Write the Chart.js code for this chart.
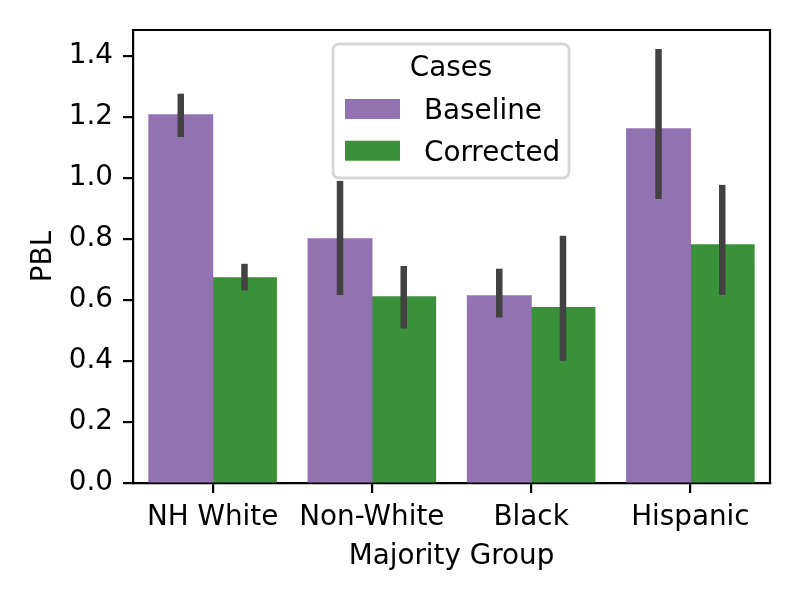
<!DOCTYPE html>
<html>
<head>
<meta charset="utf-8">
<script src="https://cdn.jsdelivr.net/npm/chart.js@4/dist/chart.umd.min.js"></script>
<style>
  html, body { margin: 0; padding: 0; background: #fff; }
</style>
</head>
<body>
<canvas id="myChart" width="800" height="600"></canvas>
<script>
(() => {
    'use strict'

    // data
    const groups = ['NH White', 'Non-White', 'Black', 'Hispanic']
    const baseline = [1.208, 0.801, 0.614, 1.162]
    const baselineLo = [1.135, 0.617, 0.543, 0.932]
    const baselineHi = [1.277, 0.991, 0.703, 1.424]
    const corrected = [0.673, 0.611, 0.575, 0.781]
    const correctedLo = [0.632, 0.507, 0.401, 0.617]
    const correctedHi = [0.719, 0.712, 0.811, 0.978]
    const yTicks = [0, 0.2, 0.4, 0.6, 0.8, 1.0, 1.2, 1.4]
    const legendTitle = 'Cases'

    const FONT = 'DejaVu Sans'
    const FS = 27.8
    const ctx = document.getElementById('myChart')

    // seaborn style error bars
    const errorBars = {
        id: 'errorBars',
        afterDatasetsDraw(chart) {
            const c = chart.ctx
            const y = chart.scales.y
            c.save()
            c.strokeStyle = '#424242'
            c.lineWidth = 6.5
            c.lineCap = 'butt'
            chart.data.datasets.forEach((ds, i) => {
                const meta = chart.getDatasetMeta(i)
                meta.data.forEach((bar, j) => {
                    c.beginPath()
                    c.moveTo(bar.x, y.getPixelForValue(ds.errLo[j]))
                    c.lineTo(bar.x, y.getPixelForValue(ds.errHi[j]))
                    c.stroke()
                })
            })
            c.restore()
        }
    }

    // top and right spines + legend box inside the plot
    const frameAndLegend = {
        id: 'frameAndLegend',
        afterDraw(chart) {
            const c = chart.ctx
            const a = chart.chartArea
            c.save()
            c.strokeStyle = '#000'
            c.lineWidth = 2.2
            c.beginPath()
            c.moveTo(a.left - 1.1, a.top)
            c.lineTo(a.right, a.top)
            c.lineTo(a.right, a.bottom + 1.1)
            c.stroke()

            // legend
            const bx = 333, by = 44, bw = 236, bh = 134, r = 6
            c.beginPath()
            c.roundRect(bx, by, bw, bh, r)
            c.fillStyle = 'rgba(255,255,255,0.8)'
            c.fill()
            c.strokeStyle = 'rgba(204,204,204,0.8)'
            c.lineWidth = 2.8
            c.stroke()

            c.font = FS + 'px "' + FONT + '"'
            c.fillStyle = '#000'
            c.textBaseline = 'alphabetic'
            c.textAlign = 'center'
            c.fillText(legendTitle, bx + bw / 2, 76)
            c.textAlign = 'left'
            chart.data.datasets.forEach((ds, i) => {
                const top = 99 + i * 41.7
                c.fillStyle = ds.backgroundColor
                c.fillRect(345, top, 55, 20)
                c.fillStyle = '#000'
                c.fillText(ds.label, 424, top + 20)
            })
            c.restore()
        }
    }

    new Chart(ctx, {
        type: 'bar',
        data: {
            labels: groups,
            datasets: [{
                label: 'Baseline',
                data: baseline,
                errLo: baselineLo,
                errHi: baselineHi,
                backgroundColor: '#9372b2',
                borderWidth: 0
            }, {
                label: 'Corrected',
                data: corrected,
                errLo: correctedLo,
                errHi: correctedHi,
                backgroundColor: '#3a913a',
                borderWidth: 0
            }]
        },
        options: {
            responsive: false,
            animation: false,
            devicePixelRatio: 1,
            layout: { padding: { top: 30, right: 30, left: 0, bottom: 0 } },
            datasets: { bar: { barPercentage: 1, categoryPercentage: 0.8, inflateAmount: 0.6 } },
            plugins: {
                legend: { display: false },
                tooltip: { enabled: false }
            },
            scales: {
                x: {
                    afterFit: (s) => { s.height = 117 },
                    grid: {
                        offset: false,
                        drawOnChartArea: false,
                        drawTicks: true,
                        tickLength: 10,
                        tickColor: '#000',
                        lineWidth: 2.2
                    },
                    border: { display: true, color: '#000', width: 2.2 },
                    ticks: {
                        color: '#000',
                        padding: 8,
                        maxRotation: 0,
                        font: { family: FONT, size: FS }
                    },
                    title: {
                        display: true,
                        text: 'Majority Group',
                        color: '#000',
                        font: { family: FONT, size: FS },
                        padding: { top: 0, bottom: 27 }
                    }
                },
                y: {
                    min: 0,
                    max: 1.486,
                    afterFit: (s) => { s.width = 133 },
                    afterBuildTicks: (s) => { s.ticks = yTicks.map(v => ({ value: v })) },
                    grid: {
                        drawOnChartArea: false,
                        drawTicks: true,
                        tickLength: 10,
                        tickColor: '#000',
                        lineWidth: 2.2
                    },
                    border: { display: true, color: '#000', width: 2.2 },
                    ticks: {
                        color: '#000',
                        padding: 10,
                        font: { family: FONT, size: FS },
                        callback: (v) => Number(v).toFixed(1)
                    },
                    title: {
                        display: true,
                        text: 'PBL',
                        color: '#000',
                        font: { family: FONT, size: FS },
                        padding: { top: 27, bottom: 0 }
                    }
                }
            }
        },
        plugins: [errorBars, frameAndLegend]
    })
})()
</script>
</body>
</html>
